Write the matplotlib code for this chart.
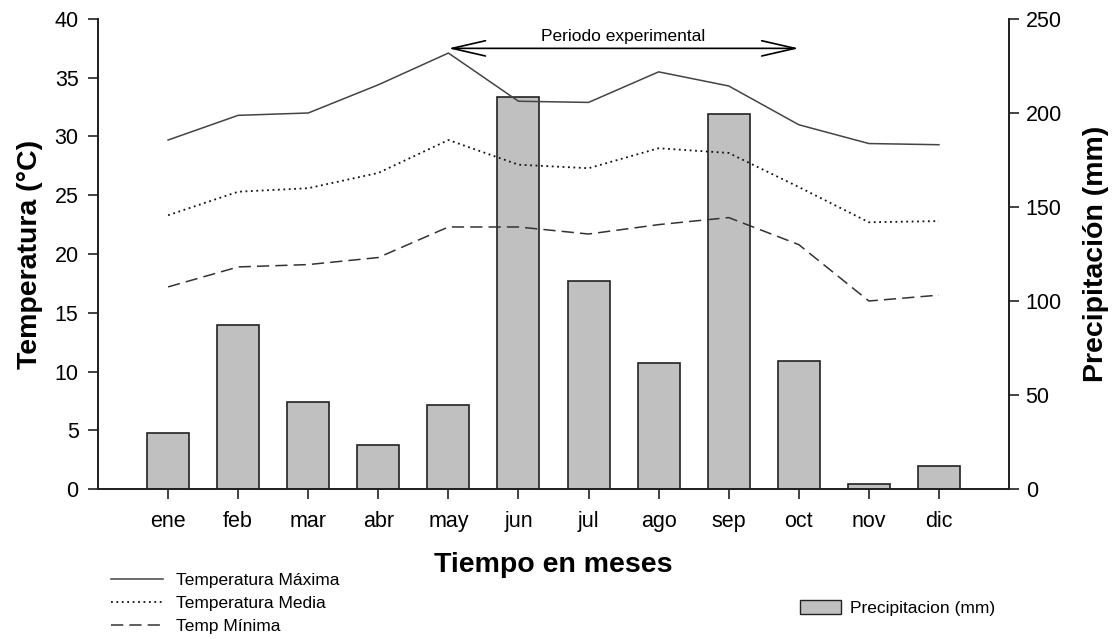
import matplotlib
matplotlib.use("Agg")
import matplotlib.pyplot as plt
from matplotlib.lines import Line2D
from matplotlib.patches import Patch

plt.rcParams['font.family'] = ['Liberation Sans', 'DejaVu Sans']

meses = ['ene', 'feb', 'mar', 'abr', 'may', 'jun', 'jul', 'ago', 'sep', 'oct', 'nov', 'dic']
temp_max = [29.7, 31.8, 32.0, 34.4, 37.1, 33.0, 32.9, 35.5, 34.3, 31.0, 29.4, 29.3]
temp_media = [23.3, 25.3, 25.6, 26.9, 29.7, 27.6, 27.3, 29.0, 28.6, 25.7, 22.7, 22.8]
temp_min = [17.2, 18.9, 19.1, 19.7, 22.3, 22.3, 21.7, 22.5, 23.1, 20.8, 16.0, 16.5]
precip = [29.8, 87.2, 46.3, 23.6, 44.5, 208.3, 110.6, 67.0, 199.5, 68.0, 2.7, 12.2]

x = list(range(len(meses)))

fig = plt.figure(figsize=(11.19, 6.39), dpi=100)
ax = fig.add_axes([0.0876, 0.2347, 0.8141, 0.7356])
ax2 = ax.twinx()

# barras de precipitacion en el eje derecho
ax2.bar(x, precip, width=0.6, color='#c0c0c0', edgecolor='#222222', linewidth=1.2)
ax2.set_ylim(0, 250)
ax2.set_yticks(range(0, 251, 50))
ax2.set_ylabel('Precipitación (mm)', fontsize=20.5, fontweight='bold', labelpad=15)

# temperaturas encima de las barras
ax.set_zorder(ax2.get_zorder() + 1)
ax.patch.set_visible(False)
ax.plot(x, temp_max, color='#444444', lw=1.1, ls='-')
ax.plot(x, temp_media, color='#111111', lw=1.3, ls=(0, (1, 2)))
ax.plot(x, temp_min, color='#333333', lw=1.1, ls=(0, (8, 4)))
ax.set_ylim(0, 40)
ax.set_yticks(range(0, 41, 5))
ax.set_xlim(-1, 12)
ax.set_xticks(x)
ax.set_xticklabels(meses)
ax.set_ylabel('Temperatura (°C)', fontsize=20.5, fontweight='bold', labelpad=8)
ax.set_xlabel('Tiempo en meses', fontsize=20.5, fontweight='bold', labelpad=14)

for a in (ax, ax2):
    a.spines['top'].set_visible(False)
    a.tick_params(labelsize=15.5, length=7, width=1.2, color='#222222', pad=7)
    for s in a.spines.values():
        s.set_linewidth(1.3)
        s.set_color('#222222')
ax.tick_params(axis='x', pad=9)
ax2.tick_params(pad=5)

# periodo experimental
ax.annotate('', xy=(4, 37.5), xytext=(9, 37.5),
            arrowprops=dict(arrowstyle='<->,head_length=2.4,head_width=0.55', color='black',
                            lw=1.2, shrinkA=0, shrinkB=0))
ax.text(6.5, 37.9, 'Periodo experimental', ha='center', va='bottom', fontsize=12.5)

# leyendas
h_lineas = [Line2D([], [], color='#444444', lw=1.1, ls='-'),
            Line2D([], [], color='#111111', lw=1.3, ls=(0, (1, 2))),
            Line2D([], [], color='#333333', lw=1.1, ls=(0, (8, 4)))]
fig.legend(h_lineas, ['Temperatura Máxima', 'Temperatura Media', 'Temp Mínima'],
           loc='upper left', bbox_to_anchor=(0.091, 0.117), frameon=False, fontsize=12.5,
           handlelength=3.0, labelspacing=0.45, borderpad=0, handletextpad=0.75)
fig.legend([Patch(facecolor='#c0c0c0', edgecolor='#222222')], ['Precipitacion (mm)'],
           loc='upper left', bbox_to_anchor=(0.707, 0.075), frameon=False, fontsize=12.5,
           handlelength=2.4, handleheight=0.9, borderpad=0, handletextpad=0.5)

fig.savefig('out.png', dpi=100)
